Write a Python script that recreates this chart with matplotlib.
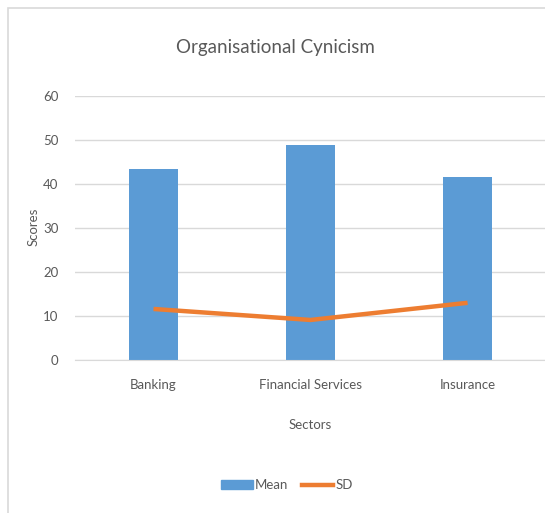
import matplotlib
matplotlib.use("Agg")
import matplotlib.pyplot as plt
from matplotlib.patches import Rectangle
from matplotlib.lines import Line2D

categories = ["Banking", "Financial Services", "Insurance"]
mean_vals = [43.3, 48.8, 41.7]
sd_vals = [11.6, 9.1, 13.0]
yticks = [0, 10, 20, 30, 40, 50, 60]

W, H = 545, 513
plt.rcParams['font.family'] = ['Lato', 'DejaVu Sans']
txt = '#595959'

fig = plt.figure(figsize=(W/100, H/100), dpi=100)
fig.patch.set_facecolor('white')

# chart border
fig.patches.append(Rectangle((8/W, -0.1), 1.2, (H-8)/H + 0.1, transform=fig.transFigure,
                             fill=False, edgecolor='#D9D9D9', linewidth=1.2))

ax = fig.add_axes([75/W, 1-360/H, (W-75)/W + 0.002, (360-96)/H])
x = list(range(len(categories)))
ax.bar(x, mean_vals, width=0.31, color='#5B9BD5', zorder=2)
ax.plot(x, sd_vals, color='#ED7D31', linewidth=3.2, zorder=3, solid_capstyle='butt')

ax.set_xlim(-0.5, 2.5)
ax.set_ylim(0, 60)
ax.set_yticks(yticks)
ax.set_yticklabels([str(v) for v in yticks], color=txt, fontsize=9.5)
ax.set_xticks(x)
ax.set_xticklabels(categories, color=txt, fontsize=9.5)
ax.tick_params(axis='both', length=0)
ax.tick_params(axis='y', pad=12)
ax.tick_params(axis='x', pad=14)
ax.yaxis.grid(True, color='#D9D9D9', linewidth=1, zorder=0)
ax.set_axisbelow(True)
for s in ['top', 'right', 'left']:
    ax.spines[s].set_visible(False)
ax.spines['bottom'].set_color('#D9D9D9')

fig.text(275/W, 1-48/H, "Organisational Cynicism", ha='center', va='center',
         fontsize=13.5, color=txt)
fig.text(34/W, 1-227/H, "Scores", ha='center', va='center', rotation=90,
         fontsize=9.5, color=txt)
fig.text(310/W, 1-425/H, "Sectors", ha='center', va='center', fontsize=9.5, color=txt)

handles = [Rectangle((0, 0), 1, 1, color='#5B9BD5'),
           Line2D([0], [0], color='#ED7D31', linewidth=3.2)]
fig.legend(handles, ["Mean", "SD"], loc='center', bbox_to_anchor=(287/W, 1-485/H),
           ncol=2, frameon=False, fontsize=9.5, labelcolor=txt,
           handlelength=2.4, handleheight=0.6, handletextpad=0.15, columnspacing=1.0)

fig.savefig("out.png", dpi=100, facecolor='white')
